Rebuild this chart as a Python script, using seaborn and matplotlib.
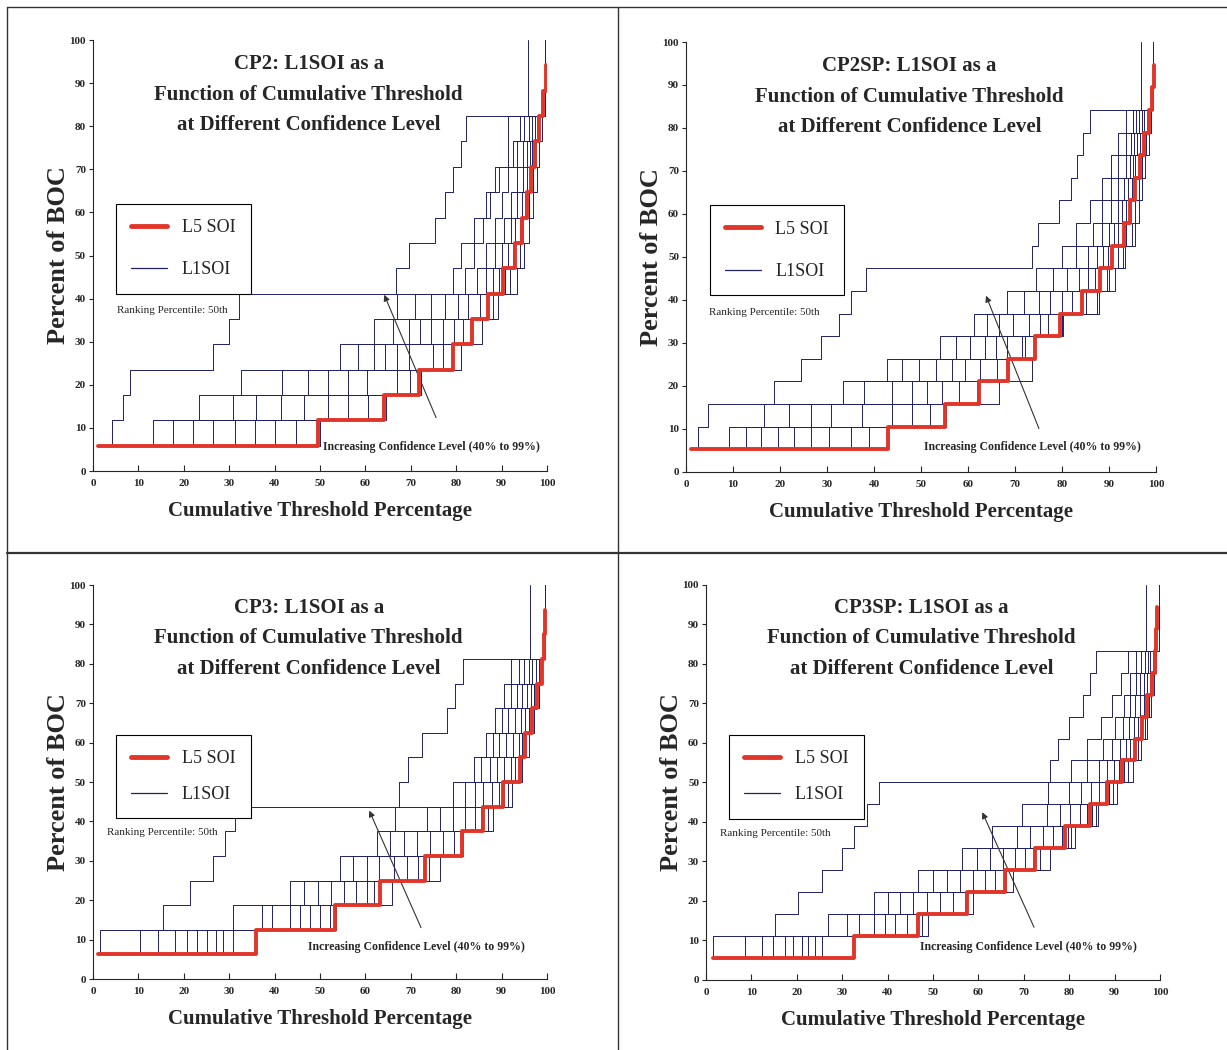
import matplotlib.pyplot as plt
import seaborn as sns
import pandas as pd
from matplotlib.lines import Line2D

# ---- data ----
# step heights (percent of BOC) per panel
CP2_LEVELS = [5.88, 11.76, 17.65, 23.53, 29.41, 35.29, 41.18, 47.06, 52.94,
              58.82, 64.71, 70.59, 76.47, 82.35, 88.24, 94.12, 100.0]
CP2SP_LEVELS = [5.26, 10.53, 15.79, 21.05, 26.32, 31.58, 36.84, 42.11, 47.37, 52.63,
                57.89, 63.16, 68.42, 73.68, 78.95, 84.21, 89.47, 94.74, 100.0]
CP3_LEVELS = [6.25, 12.5, 18.75, 25.0, 31.25, 37.5, 43.75, 50.0, 56.25,
              62.5, 68.75, 75.0, 81.25, 87.5, 93.75, 100.0]
CP3SP_LEVELS = [5.56, 11.11, 16.67, 22.22, 27.78, 33.33, 38.89, 44.44, 50.0,
                55.56, 61.11, 66.67, 72.22, 77.78, 83.33, 88.89, 94.44, 100.0]

# threshold (x) where each L1SOI curve reaches each level, 99% curve first
CP2_L1 = [
    [1, 4.2, 6.6, 8.1, 26.4, 29.9, 32.1, 66.8, 69.6, 75.3, 77.5, 79.2, 81.0, 82.1, 95.8, 95.8, 95.8],
    [1, 13.2, 23.4, 32.5, 54.4, 61.8, 67.0, 79.2, 81.0, 84.0, 86.5, 88.5, 91.5, 91.5, 99.6, 99.6, 99.6],
    [1, 17.7, 30.8, 41.6, 58.3, 66.0, 71.0, 82.0, 84.0, 86.0, 87.5, 89.5, 92.5, 94.0, 99.6, 99.6, 99.6],
    [1, 22.1, 36.0, 47.4, 61.8, 69.5, 74.4, 84.5, 86.5, 88.5, 90.0, 91.5, 93.5, 95.0, 99.6, 99.6, 99.6],
    [1, 26.4, 41.3, 51.8, 64.4, 72.0, 77.5, 86.5, 88.5, 90.5, 92.0, 93.5, 94.8, 96.0, 99.6, 99.6, 99.6],
    [1, 31.2, 46.5, 56.2, 67.0, 74.5, 80.5, 88.0, 90.0, 92.0, 93.5, 94.8, 95.6, 96.8, 99.6, 99.6, 99.6],
    [1, 35.6, 51.7, 60.3, 69.6, 77.0, 82.7, 89.5, 91.5, 93.0, 94.5, 95.6, 96.2, 97.3, 99.6, 99.6, 99.6],
    [1, 40.0, 56.1, 66.9, 74.9, 79.5, 85.3, 90.8, 92.5, 94.0, 95.2, 96.2, 96.8, 97.8, 99.6, 99.6, 99.6],
    [1, 44.8, 60.5, 69.8, 77.0, 81.5, 88.0, 91.8, 94.0, 94.8, 96.0, 97.0, 97.5, 98.3, 99.6, 99.6, 99.6],
    [1, 50.0, 64.5, 72.2, 81.0, 85.6, 89.2, 93.3, 95.0, 96.0, 97.0, 97.7, 98.2, 98.8, 99.6, 99.6, 99.6],
]
CP2_L5 = [1, 49.6, 64.0, 71.8, 79.3, 83.5, 87.1, 90.4, 93.0, 94.6, 95.6, 96.5, 97.4, 98.3, 99.2, 99.8]

CP2SP_L1 = [
    [1.1, 2.6, 4.6, 18.8, 24.4, 28.7, 32.5, 35.0, 38.2, 73.6, 74.9, 79.3, 81.8, 83.2, 84.5, 86.0, 96.8, 96.8, 96.8],
    [1.1, 9.2, 16.6, 33.3, 42.8, 54.0, 61.2, 68.3, 74.5, 80.0, 83.0, 86.0, 88.5, 90.5, 92.0, 93.5, 99.4, 99.4, 99.4],
    [1.1, 12.7, 21.9, 37.9, 46.0, 57.5, 64.0, 72.0, 78.0, 83.0, 86.5, 88.5, 90.5, 92.0, 93.5, 95.0, 99.4, 99.4, 99.4],
    [1.1, 15.9, 26.5, 43.9, 49.5, 60.5, 66.5, 75.0, 81.0, 85.6, 88.5, 90.5, 92.0, 93.5, 94.6, 95.8, 99.4, 99.4, 99.4],
    [1.1, 19.5, 30.8, 48.1, 53.1, 63.5, 69.5, 77.5, 83.5, 87.5, 89.9, 91.8, 93.2, 94.4, 95.4, 96.4, 99.4, 99.4, 99.4],
    [1.1, 23.0, 37.5, 51.3, 56.5, 66.0, 72.9, 80.0, 85.5, 88.8, 91.0, 92.8, 94.0, 95.0, 96.0, 97.0, 99.4, 99.4, 99.4],
    [1.1, 26.5, 43.9, 54.5, 59.4, 68.3, 75.4, 82.1, 87.0, 89.8, 92.0, 93.6, 94.8, 95.6, 96.5, 97.5, 99.4, 99.4, 99.4],
    [1.1, 30.4, 48.1, 58.0, 62.6, 71.5, 77.1, 85.0, 89.5, 91.8, 93.5, 94.6, 95.5, 96.3, 97.2, 98.0, 99.4, 99.4, 99.4],
    [1.1, 35.0, 52.0, 62.0, 66.2, 72.2, 80.0, 87.4, 90.0, 93.0, 94.8, 95.6, 96.3, 97.0, 97.8, 98.5, 99.4, 99.4, 99.4],
    [1.1, 38.9, 55.3, 66.5, 73.6, 74.3, 80.2, 87.8, 91.3, 93.4, 95.5, 96.4, 97.0, 97.7, 98.4, 99.0, 99.4, 99.4, 99.4],
]
CP2SP_L5 = [1.1, 43.0, 55.2, 62.3, 68.6, 74.3, 79.6, 84.2, 88.1, 90.6, 93.1, 94.5, 95.6, 96.6, 97.5, 98.4, 99.2, 99.6]

CP3_L1 = [
    [1.6, 1.6, 15.5, 21.4, 26.5, 29.0, 31.3, 67.3, 69.4, 72.5, 78.0, 79.8, 81.6, 96.3, 96.3, 96.3],
    [1.0, 10.4, 30.9, 43.4, 54.4, 62.5, 66.5, 79.4, 84.0, 86.5, 88.5, 90.5, 92.0, 99.6, 99.6, 99.6],
    [1.0, 14.4, 37.2, 46.5, 57.3, 65.5, 73.5, 82.0, 85.5, 88.0, 90.0, 92.0, 93.8, 99.6, 99.6, 99.6],
    [1.0, 18.1, 39.4, 49.5, 60.3, 68.5, 76.5, 84.2, 87.5, 89.5, 91.5, 93.5, 95.0, 99.6, 99.6, 99.6],
    [1.0, 20.6, 43.4, 52.5, 63.0, 71.3, 79.4, 86.0, 89.0, 91.0, 93.0, 94.6, 96.0, 99.6, 99.6, 99.6],
    [1.0, 22.8, 45.5, 55.3, 66.2, 74.2, 82.0, 87.8, 90.5, 92.5, 94.2, 95.6, 96.8, 99.6, 99.6, 99.6],
    [1.0, 25.0, 47.8, 58.0, 69.1, 77.1, 84.2, 89.5, 92.0, 93.8, 95.2, 96.5, 97.6, 99.6, 99.6, 99.6],
    [1.0, 27.2, 50.0, 60.3, 71.6, 79.5, 85.5, 90.5, 93.0, 94.6, 96.0, 97.2, 98.2, 99.6, 99.6, 99.6],
    [1.0, 28.7, 52.2, 62.0, 74.0, 81.0, 87.0, 91.5, 93.8, 95.4, 96.6, 97.7, 98.7, 99.6, 99.6, 99.6],
    [1.0, 30.9, 53.5, 65.8, 76.4, 81.5, 88.2, 92.2, 94.5, 96.0, 97.2, 98.2, 99.0, 99.6, 99.6, 99.6],
]
CP3_L5 = [1.0, 35.8, 53.3, 63.2, 73.1, 81.2, 86.0, 90.4, 94.0, 95.2, 96.6, 97.7, 98.8, 99.3, 99.6]

CP3SP_L1 = [
    [1.6, 1.6, 15.2, 20.3, 25.5, 29.9, 32.5, 35.4, 38.0, 75.8, 77.6, 80.0, 83.1, 84.6, 85.8, 97.0, 97.0, 97.0],
    [1.5, 8.6, 26.9, 36.9, 46.8, 56.3, 62.9, 69.5, 75.4, 80.5, 84.0, 87.0, 89.5, 91.5, 93.0, 99.7, 99.7, 99.7],
    [1.5, 12.3, 31.0, 40.0, 50.1, 59.6, 68.4, 75.0, 80.0, 84.0, 87.5, 90.0, 92.0, 93.5, 94.8, 99.7, 99.7, 99.7],
    [1.5, 14.8, 33.6, 42.7, 53.0, 62.5, 71.4, 78.0, 82.5, 86.5, 89.5, 91.8, 93.5, 94.8, 95.8, 99.7, 99.7, 99.7],
    [1.5, 17.4, 36.9, 45.6, 56.0, 65.5, 74.3, 80.2, 84.8, 88.3, 91.2, 93.2, 94.6, 95.7, 96.6, 99.7, 99.7, 99.7],
    [1.5, 19.2, 39.4, 48.6, 58.9, 68.1, 76.5, 82.4, 86.5, 89.8, 92.5, 94.3, 95.6, 96.5, 97.3, 99.7, 99.7, 99.7],
    [1.5, 21.1, 41.6, 51.5, 61.5, 70.3, 78.5, 84.0, 87.8, 91.0, 93.5, 95.2, 96.4, 97.2, 97.9, 99.7, 99.7, 99.7],
    [1.5, 22.5, 44.2, 54.5, 63.7, 72.0, 79.8, 85.0, 88.8, 92.0, 94.4, 96.0, 97.0, 97.8, 98.4, 99.7, 99.7, 99.7],
    [1.5, 24.0, 47.5, 57.0, 66.0, 73.5, 80.5, 85.8, 89.6, 93.0, 95.2, 96.6, 97.5, 98.2, 98.8, 99.7, 99.7, 99.7],
    [1.5, 25.5, 49.0, 58.9, 67.7, 75.8, 81.3, 86.4, 90.5, 94.1, 95.8, 97.1, 98.0, 98.6, 99.1, 99.7, 99.7, 99.7],
]
CP3SP_L5 = [1.5, 32.5, 46.8, 57.4, 65.9, 72.5, 79.1, 84.6, 88.3, 91.6, 94.5, 96.0, 97.1, 98.2, 98.9, 99.2, 99.4]

TICKS = [0, 10, 20, 30, 40, 50, 60, 70, 80, 90, 100]

NAVY = "#202068"
RED = "#e2352a"

sns.set_style("ticks")
plt.rcParams["font.family"] = ["Liberation Serif", "DejaVu Serif"]


def to_long(rows, levels):
    recs = []
    for k, xs in enumerate(rows):
        for x, y in zip(xs, levels):
            recs.append({"curve": k, "x": x, "y": y})
    return pd.DataFrame(recs)


def draw_panel(ax, name, levels, l1_rows, l5_x, rank_x, text_xy, arrow_from, arrow_to, spacing):
    df = to_long(l1_rows, levels)
    sns.lineplot(data=df, x="x", y="y", units="curve", estimator=None, sort=False,
                 color=NAVY, lw=0.7, drawstyle="steps-post", legend=False, ax=ax)
    sns.lineplot(x=l5_x, y=levels[:len(l5_x)], estimator=None, sort=False,
                 color=RED, lw=2.8, drawstyle="steps-post", ax=ax, zorder=5)

    ax.set_xlim(0, 100)
    ax.set_ylim(0, 100)
    ax.set_xticks(TICKS)
    ax.set_yticks(TICKS)
    ax.set_xticklabels([str(t) for t in TICKS], fontsize=8, fontweight="bold")
    ax.set_yticklabels([str(t) for t in TICKS], fontsize=8, fontweight="bold")
    ax.tick_params(axis="x", direction="in", length=4, pad=6)
    ax.tick_params(axis="y", direction="out", length=3, pad=2)
    sns.despine(ax=ax)
    for sp in ax.spines.values():
        sp.set_linewidth(0.8)

    ax.set_xlabel("Cumulative Threshold Percentage", fontsize=15, fontweight="bold", labelpad=9)
    ax.set_ylabel("Percent of BOC", fontsize=19, fontweight="bold", labelpad=0)

    ax.text(0.475, 0.968, name + ": L1SOI as a\nFunction of Cumulative Threshold\nat Different Confidence Level",
            transform=ax.transAxes, ha="center", va="top", fontsize=15,
            fontweight="bold", linespacing=1.72)

    handles = [Line2D([], [], color=RED, lw=3.5, label="L5 SOI"),
               Line2D([], [], color=NAVY, lw=0.9, label="L1SOI")]
    leg = ax.legend(handles=handles, loc="upper left", bbox_to_anchor=(0.05, 0.62),
                    borderaxespad=0, fancybox=False, edgecolor="black", framealpha=1,
                    fontsize=13, handlelength=2.0, labelspacing=spacing, borderpad=0.85,
                    handletextpad=0.8)
    leg.get_frame().set_linewidth(0.8)

    ax.text(rank_x, 0.372, "Ranking Percentile: 50th", transform=ax.transAxes,
            fontsize=8, va="center")
    ax.annotate("", xy=arrow_to, xytext=arrow_from,
                arrowprops=dict(arrowstyle="-|>", color="#333333", lw=0.8, mutation_scale=9))
    ax.text(text_xy[0], text_xy[1], "Increasing Confidence Level (40% to 99%)",
            fontsize=8.5, fontweight="bold", va="center")


fig = plt.figure(figsize=(12.27, 10.5), dpi=100)

ax1 = fig.add_axes([0.0758, 0.5514, 0.370, 0.4105])
ax2 = fig.add_axes([0.5591, 0.5505, 0.3831, 0.4095])
ax3 = fig.add_axes([0.0758, 0.0676, 0.370, 0.3752])
ax4 = fig.add_axes([0.5754, 0.0667, 0.370, 0.3762])

draw_panel(ax1, "CP2", CP2_LEVELS, CP2_L1, CP2_L5, 0.053, (50.7, 5.6), (75.8, 11.8), (63.9, 41.5), 1.4)
draw_panel(ax2, "CP2SP", CP2SP_LEVELS, CP2SP_L1, CP2SP_L5, 0.049, (50.6, 5.8), (75.3, 9.5), (63.6, 41.6), 1.4)
draw_panel(ax3, "CP3", CP3_LEVELS, CP3_L1, CP3_L5, 0.031, (47.4, 8.1), (72.5, 12.4), (60.6, 43.4), 1.05)
draw_panel(ax4, "CP3SP", CP3SP_LEVELS, CP3SP_L1, CP3SP_L5, 0.031, (47.1, 8.4), (72.5, 12.7), (60.6, 43.1), 1.05)

# panel frame lines
for xs, ys, w in [([0.0057, 0.0057], [0, 0.9933], 1.0),
                  ([0.0057, 1], [0.9933, 0.9933], 1.0),
                  ([0.5037, 0.5037], [0, 0.9933], 1.0),
                  ([0.0057, 1], [0.4733, 0.4733], 1.6)]:
    fig.add_artist(Line2D(xs, ys, transform=fig.transFigure, color="#333333", lw=w))

fig.savefig("out.png", dpi=100)
